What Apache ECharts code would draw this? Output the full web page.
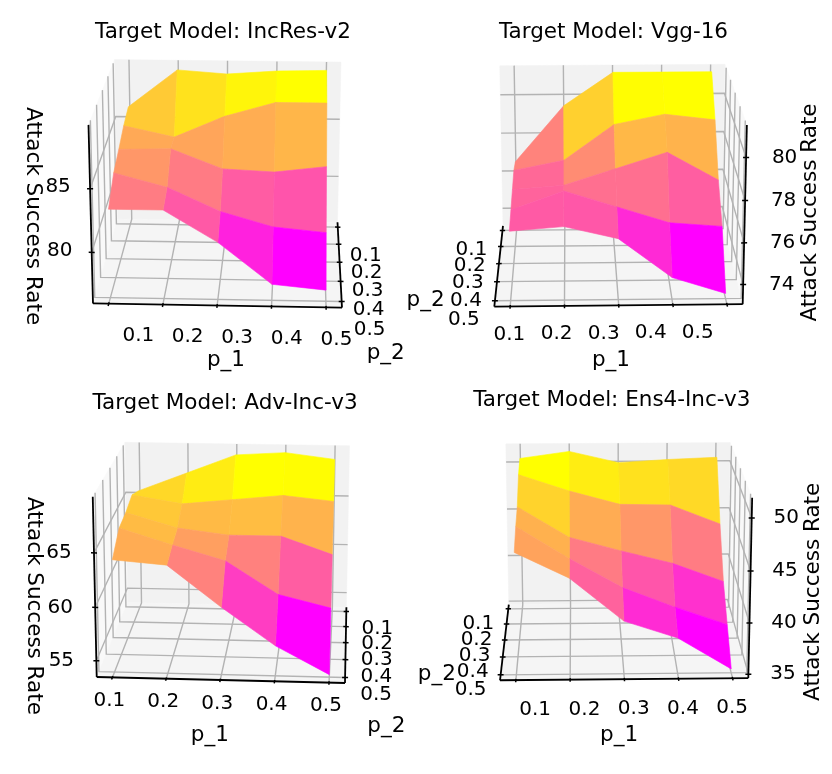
<!DOCTYPE html>
<html>
<head>
<meta charset="utf-8">
<script src="https://cdn.jsdelivr.net/npm/echarts@6/dist/echarts.min.js"></script>
<style>
html, body { margin:0; padding:0; background:#ffffff; }
#chart { width:832px; height:774px; }
</style>
</head>
<body>
<div id="chart"></div>
<script>
// ---------------- data ----------------
const p1Values = [0.1, 0.2, 0.3, 0.4, 0.5];
const p2Values = [0.1, 0.2, 0.3, 0.4, 0.5];
const p1TickLabels = ['0.1', '0.2', '0.3', '0.4', '0.5'];
const p2TickLabels = ['0.1', '0.2', '0.3', '0.4', '0.5'];
const panelTitles = ['Target Model: IncRes-v2', 'Target Model: Vgg-16',
                     'Target Model: Adv-Inc-v3', 'Target Model: Ens4-Inc-v3'];
const zAxisName = 'Attack Success Rate';
const p1Name = 'p_1';
const p2Name = 'p_2';
const zTicksIncResV2 = [80, 85];
const zTicksVgg16 = [74, 76, 78, 80];
const zTicksAdvIncV3 = [55, 60, 65];
const zTicksEns4IncV3 = [35, 40, 45, 50];
// rows: p_2 = 0.1 ... 0.5 ; columns: p_1 = 0.1 ... 0.5
const asrIncResV2 = [
  [86.2, 89.4, 89.1, 89.4, 89.5],
  [85.8, 84.9, 86.7, 87.9, 87.9],
  [85.1, 85.2, 83.6, 83.4, 83.9],
  [84.5, 83.4, 81.5, 80.3, 79.9],
  [83.0, 83.0, 80.5, 77.2, 76.8]
];
const asrVgg16 = [
  [76.7, 79.6, 81.3, 81.3, 81.3],
  [77.0, 77.5, 79.3, 79.8, 79.5],
  [76.8, 77.0, 77.8, 78.6, 77.2],
  [76.6, 77.5, 76.7, 75.9, 75.7],
  [76.4, 76.6, 76.0, 74.1, 73.3]
];
const asrAdvIncV3 = [
  [65.5, 67.4, 69.3, 69.6, 69.0],
  [66.3, 65.5, 66.0, 66.5, 66.0],
  [65.8, 64.4, 63.8, 63.8, 62.1],
  [65.6, 64.1, 62.7, 59.6, 58.4],
  [64.0, 63.6, 59.8, 56.3, 53.7]
];
const asrEns4IncV3 = [
  [50.7, 51.4, 50.2, 50.5, 50.7],
  [50.2, 48.5, 47.1, 47.0, 45.0],
  [48.2, 45.1, 43.7, 42.4, 40.5],
  [47.6, 44.4, 41.5, 39.5, 37.7],
  [46.5, 44.0, 39.8, 38.1, 35.0]
];

// ---------------- view / layout settings ----------------
const FONT = 'DejaVu Sans, Verdana, sans-serif';
const PLO = 0.0708, PHI = 0.5292;     // drawn box limits for p_1 / p_2
const DIST = 8.5;
const ASP = [4 / 3.5, 4 / 3.5, 3 / 3.5];
const GRID_COLOR = '#b3b3b3';

const PANELS = [
  { title: panelTitles[0], values: asrIncResV2, zTicks: zTicksIncResV2, zRange: [75.9, 89.9],
    elev: 18.5, azim: -87.5, side: 'left', fbl: [93, 303], fbr: [342, 308], titlePos: [223, 32],
    zLab: [-32, -2], p2Lab: [28, 28.5], p1Lab: { sx: 0.912, dx: 20, dy: 32 },
    p1NameOff: [8.5, 54.5], p2NameOff: [46, 88], zNameOff: [-58.5, 2], zRot: -Math.PI / 2 },
  { title: panelTitles[1], values: asrVgg16, zTicks: zTicksVgg16, zRange: [73.05, 81.5],
    elev: 17.4, azim: -91.5, side: 'right', fbl: [494.3, 306.7], fbr: [742.7, 304], titlePos: [613.5, 32],
    zLab: [38.5, 0], p2Lab: [-31, 19], p1Lab: { sx: 0.869, dx: -15, dy: 28 },
    p1NameOff: [-7.5, 54.7], p2NameOff: [-73, 34], zNameOff: [65.5, -2], zRot: Math.PI / 2 },
  { title: panelTitles[2], values: asrAdvIncV3, zTicks: zTicksAdvIncV3, zRange: [53.46, 70.08],
    elev: 16, azim: -86, side: 'left', fbl: [96.7, 678], fbr: [345, 682], titlePos: [225, 403.7],
    zLab: [-35, 0], p2Lab: [31, 17.5], p1Lab: { sx: 1.0, dx: -3, dy: 23.5 },
    p1NameOff: [-11, 55], p2NameOff: [40.7, 81.3], zNameOff: [-61, 19], zRot: -Math.PI / 2 },
  { title: panelTitles[3], values: asrEns4IncV3, zTicks: zTicksEns4IncV3, zRange: [34.62, 51.9],
    elev: 16.1, azim: -91.5, side: 'right', fbl: [500, 680], fbr: [748.3, 678.3], titlePos: [611.8, 400.3],
    zLab: [34.5, 0], p2Lab: [-30, 15.3], p1Lab: { sx: 0.909, dx: 9.4, dy: 29.7 },
    p1NameOff: [-5, 56], p2NameOff: [-67.5, 31.7], zNameOff: [63.5, 4], zRot: Math.PI / 2 }
];

// ---------------- perspective projection ----------------
function makeView(elev, azim) {
  const e = elev * Math.PI / 180, a = azim * Math.PI / 180;
  const R = ASP.map(v => v / 2);
  const w = [Math.cos(e) * Math.cos(a), Math.cos(e) * Math.sin(a), Math.sin(e)];
  const eye = R.map((r, i) => r + DIST * w[i]);
  let u = [-w[1], w[0], 0];
  const un = Math.hypot(u[0], u[1]);
  u = u.map(x => x / un);
  const v = [w[1] * u[2] - w[2] * u[1], w[2] * u[0] - w[0] * u[2], w[0] * u[1] - w[1] * u[0]];
  return { eye, u, v, w };
}
function proj(view, X, Y, Z) {
  const P = [X * ASP[0], Y * ASP[1], Z * ASP[2]];
  const d = [P[0] - view.eye[0], P[1] - view.eye[1], P[2] - view.eye[2]];
  const dot = (a) => d[0] * a[0] + d[1] * a[1] + d[2] * a[2];
  const depth = -dot(view.w);
  return [dot(view.u) / depth, dot(view.v) / depth, depth];
}
const nx = (p1) => (p1 - PLO) / (PHI - PLO);
const ny = (p2) => (PHI - p2) / (PHI - PLO);   // 0 = front (p_2 = 0.5 side)

const EXT = 0.06;
const LAYOUT = PANELS.map(P => {
  const view = makeView(P.elev, P.azim);
  const a = proj(view, 0, 0, 0), b = proj(view, 1, 0, 0);
  const k = Math.hypot(P.fbr[0] - P.fbl[0], P.fbr[1] - P.fbl[1]) / Math.hypot(b[0] - a[0], b[1] - a[1]);
  const cx = (P.fbl[0] + P.fbr[0]) / 2 - k * (a[0] + b[0]) / 2;
  const cy = (P.fbl[1] + P.fbr[1]) / 2 + k * (a[1] + b[1]) / 2;
  const nz = (z) => (z - P.zRange[0]) / (P.zRange[1] - P.zRange[0]);
  const quads = [];
  for (let r = 0; r < p2Values.length - 1; r++) {
    for (let c = 0; c < p1Values.length - 1; c++) {
      const corners = [[c, r], [c + 1, r], [c + 1, r + 1], [c, r + 1]];
      let dsum = 0, zsum = 0;
      corners.forEach(([cc, rr]) => {
        dsum += proj(view, nx(p1Values[cc]), ny(p2Values[rr]), nz(P.values[rr][cc]))[2];
        zsum += P.values[rr][cc];
      });
      quads.push({ c, r, depth: dsum / 4, avg: zsum / 4 });
    }
  }
  quads.sort((q1, q2) => q2.depth - q1.depth);   // far -> near
  const avgs = quads.map(q => q.avg);
  return { view, k, cx, cy, nz, quads, vmin: Math.min(...avgs), vmax: Math.max(...avgs) };
});

function spring(t) {
  t = Math.max(0, Math.min(1, t));
  return 'rgb(255,' + Math.round(255 * t) + ',' + Math.round(255 * (1 - t)) + ')';
}

function frameRenderer(pi) {
  return function (params, api) {
    const P = PANELS[pi], L = LAYOUT[pi];
    const pt = (X, Y, Z) => { const q = proj(L.view, X, Y, Z); return api.coord([q[0], q[1]]); };
    const sideX = P.side === 'left' ? 0 : 1;
    const axisX = 1 - sideX;
    const ch = [];
    const poly = (pts, fill) => ch.push({ type: 'polygon', shape: { points: pts }, style: { fill: fill, stroke: fill, lineWidth: 0.5 } });
    const line = (pts, color, w) => ch.push({ type: 'polyline', shape: { points: pts }, style: { stroke: color, lineWidth: w, fill: null } });
    poly([pt(sideX, 0, 0), pt(sideX, 1, 0), pt(sideX, 1, 1), pt(sideX, 0, 1)], '#f9f9f9');
    poly([pt(0, 1, 0), pt(1, 1, 0), pt(1, 1, 1), pt(0, 1, 1)], '#f2f2f2');
    poly([pt(0, 0, 0), pt(1, 0, 0), pt(1, 1, 0), pt(0, 1, 0)], '#f5f5f5');
    p1Values.forEach(t => { const X = nx(t); line([pt(X, 0, 0), pt(X, 1, 0), pt(X, 1, 1)], GRID_COLOR, 1.4); });
    p2Values.forEach(t => { const Y = ny(t); line([pt(axisX, Y, 0), pt(sideX, Y, 0), pt(sideX, Y, 1)], GRID_COLOR, 1.4); });
    P.zTicks.forEach(t => { const Z = L.nz(t); line([pt(axisX, 1, Z), pt(sideX, 1, Z), pt(sideX, 0, Z)], GRID_COLOR, 1.4); });
    line([pt(0, 0, 0), pt(1, 0, 0)], '#000', 1.8);
    line([pt(axisX, 0, 0), pt(axisX, 1, 0)], '#000', 1.8);
    line([pt(sideX, 0, 0), pt(sideX, 0, 1)], '#000', 1.8);
    p1Values.forEach(t => { const X = nx(t); line([pt(X, -0.025, 0), pt(X, 0.015, 0)], '#000', 1.5); });
    p2Values.forEach(t => { const Y = ny(t); line([pt(axisX - 0.012, Y, 0), pt(axisX + 0.012, Y, 0)], '#000', 1.5); });
    P.zTicks.forEach(t => { const Z = L.nz(t); line([pt(sideX - 0.012, 0, Z), pt(sideX + 0.012, 0, Z)], '#000', 1.5); });
    return { type: 'group', children: ch };
  };
}

function surfaceRenderer(pi) {
  return function (params, api) {
    const P = PANELS[pi], L = LAYOUT[pi];
    const q = L.quads[params.dataIndex];
    const pt = (c, r) => {
      const s = proj(L.view, nx(p1Values[c]), ny(p2Values[r]), L.nz(P.values[r][c]));
      return api.coord([s[0], s[1]]);
    };
    const col = spring((q.avg - L.vmin) / (L.vmax - L.vmin));
    return {
      type: 'polygon',
      shape: { points: [pt(q.c, q.r), pt(q.c + 1, q.r), pt(q.c + 1, q.r + 1), pt(q.c, q.r + 1)] },
      style: { fill: col, stroke: col, lineWidth: 0.6 }
    };
  };
}

function textRenderer(pi) {
  return function (params, api) {
    const P = PANELS[pi], L = LAYOUT[pi];
    const pt = (X, Y, Z) => { const q = proj(L.view, X, Y, Z); return api.coord([q[0], q[1]]); };
    const sideX = P.side === 'left' ? 0 : 1;
    const axisX = 1 - sideX;
    const ch = [];
    const txt = (s, x, y, size, rot) => ch.push({
      type: 'text', x: x, y: y, rotation: rot || 0,
      style: { text: s, fill: '#000', fontSize: size, fontFamily: FONT, align: 'center', verticalAlign: 'middle' }
    });
    const t0 = pt(nx(p1Values[0]), 0, 0), t1 = pt(nx(p1Values[p1Values.length - 1]), 0, 0);
    const mid = (t0[0] + t1[0]) / 2;
    p1Values.forEach((t, i) => {
      const s = pt(nx(t), 0, 0);
      txt(p1TickLabels[i], mid + P.p1Lab.sx * (s[0] - mid) + P.p1Lab.dx, s[1] + P.p1Lab.dy, 20);
    });
    p2Values.forEach((t, i) => {
      const s = pt(axisX, ny(t), 0);
      txt(p2TickLabels[i], s[0] + P.p2Lab[0], s[1] + P.p2Lab[1], 20);
    });
    P.zTicks.forEach(t => {
      const s = pt(sideX, 0, L.nz(t));
      txt(String(t), s[0] + P.zLab[0], s[1] + P.zLab[1], 20);
    });
    const a0 = pt(0, 0, 0), a1 = pt(1, 0, 0);
    txt(p1Name, (a0[0] + a1[0]) / 2 + P.p1NameOff[0], (a0[1] + a1[1]) / 2 + P.p1NameOff[1], 21.5);
    const b0 = pt(axisX, 0, 0), b1 = pt(axisX, 1, 0);
    txt(p2Name, (b0[0] + b1[0]) / 2 + P.p2NameOff[0], (b0[1] + b1[1]) / 2 + P.p2NameOff[1], 21.5);
    const c0 = pt(sideX, 0, 0), c1 = pt(sideX, 0, 1);
    txt(zAxisName, (c0[0] + c1[0]) / 2 + P.zNameOff[0], (c0[1] + c1[1]) / 2 + P.zNameOff[1], 21.5, P.zRot);
    return { type: 'group', children: ch };
  };
}

const grids = [], xAxes = [], yAxes = [], series = [], titles = [];
PANELS.forEach((P, i) => {
  const L = LAYOUT[i];
  grids.push({ left: L.cx - L.k * EXT, top: L.cy - L.k * EXT, width: 2 * L.k * EXT, height: 2 * L.k * EXT,
    containLabel: false, outerBoundsMode: 'none' });
  xAxes.push({ type: 'value', gridIndex: i, min: -EXT, max: EXT, show: false });
  yAxes.push({ type: 'value', gridIndex: i, min: -EXT, max: EXT, show: false });
  series.push({ type: 'custom', xAxisIndex: i, yAxisIndex: i, coordinateSystem: 'cartesian2d', clip: false, silent: true,
    z: 1, renderItem: frameRenderer(i), data: [[0, 0]] });
  series.push({ type: 'custom', xAxisIndex: i, yAxisIndex: i, coordinateSystem: 'cartesian2d', clip: false, silent: true,
    z: 2, renderItem: surfaceRenderer(i), data: L.quads.map(q => [q.c, q.r]) });
  series.push({ type: 'custom', xAxisIndex: i, yAxisIndex: i, coordinateSystem: 'cartesian2d', clip: false, silent: true,
    z: 3, renderItem: textRenderer(i), data: [[0, 0]] });
  titles.push({ text: P.title, left: P.titlePos[0], top: P.titlePos[1] - 11, textAlign: 'center', padding: 0,
    textStyle: { fontFamily: FONT, fontSize: 21.5, fontWeight: 'normal', color: '#000' } });
});

const chart = echarts.init(document.getElementById('chart'), null, { renderer: 'canvas' });
chart.setOption({
  backgroundColor: '#ffffff',
  animation: false,
  title: titles,
  tooltip: { show: false },
  grid: grids,
  xAxis: xAxes,
  yAxis: yAxes,
  series: series
});
</script>
</body>
</html>
